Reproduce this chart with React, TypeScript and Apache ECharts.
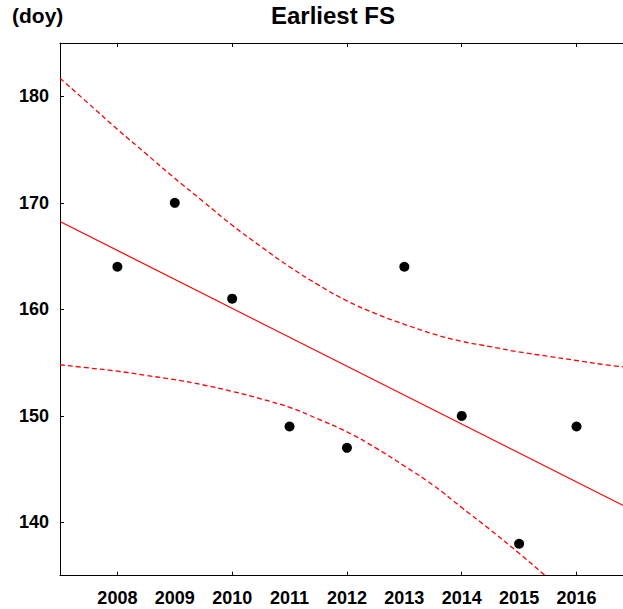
import React, { useEffect, useRef } from "react";
import * as echarts from "echarts";

const years = [2008, 2009, 2010, 2011, 2012, 2013, 2014, 2015, 2016];
const earliestFS = [164, 170, 161, 149, 147, 164, 150, 138, 149];
const xTickYears = [2008, 2010, 2012, 2014, 2016];
const yTicks = [140, 150, 160, 170, 180];

// fitted trend line endpoints
const trendX = [2007, 2017];
const trendY = [168.25, 141.08];

const bandX = [2007, 2007.5, 2008, 2008.5, 2009, 2009.5, 2010, 2010.5, 2011, 2011.5, 2012, 2012.5, 2013, 2013.5, 2014, 2014.5, 2015, 2015.5, 2016, 2016.5, 2017];
const bandUpper = [181.7, 179.3, 176.9, 174.6, 172.3, 170.1, 167.9, 165.9, 164.0, 162.3, 160.8, 159.6, 158.6, 157.7, 157.0, 156.5, 156.0, 155.6, 155.2, 154.8, 154.5];
const bandLower = [154.8, 154.5, 154.2, 153.8, 153.4, 152.9, 152.3, 151.6, 150.8, 149.7, 148.5, 147.0, 145.3, 143.5, 141.4, 139.3, 137.1, 134.8, 132.4, 130.0, 127.6];

const sans = "'Liberation Sans', Arial, Helvetica, sans-serif";

export default function App() {
  const ref = useRef<HTMLDivElement>(null);
  useEffect(() => {
    if (!ref.current) return;
    const chart = echarts.init(ref.current, undefined, { renderer: "svg" });
    const axisLineStyle = { color: "#000", width: 1 };
    const dash = { color: "#ff0000", width: 1.3, type: [5, 3] };
    chart.setOption({
      animation: false,
      backgroundColor: "#fff",
      grid: { left: 60, top: 43, right: 0, bottom: 33.3, containLabel: false },
      graphic: [
        {
          type: "text",
          x: 333,
          y: 3,
          style: { text: "Earliest FS", font: `bold 24px ${sans}`, fill: "#000", align: "center", verticalAlign: "top" },
        },
        {
          type: "text",
          x: 12,
          y: 5,
          style: { text: "(doy)", font: `bold 21px ${sans}`, fill: "#000", align: "left", verticalAlign: "top" },
        },
      ],
      xAxis: [
        {
          type: "value",
          position: "bottom",
          min: 2007,
          max: 2016.81,
          axisLine: { show: true, lineStyle: axisLineStyle },
          axisTick: { show: true, inside: true, length: 4, customValues: xTickYears, lineStyle: axisLineStyle },
          axisLabel: {
            show: true,
            customValues: years,
            formatter: (v: number) => String(v),
            fontFamily: sans,
            fontWeight: "bold",
            fontSize: 18,
            color: "#000",
            margin: 13,
          },
          splitLine: { show: false },
        },
        {
          type: "value",
          position: "top",
          min: 2007,
          max: 2016.81,
          axisLine: { show: true, lineStyle: axisLineStyle },
          axisTick: { show: true, inside: true, length: 4, customValues: xTickYears, lineStyle: axisLineStyle },
          axisLabel: { show: false },
          splitLine: { show: false },
        },
      ],
      yAxis: {
        type: "value",
        min: 135,
        max: 185,
        axisLine: { show: true, lineStyle: axisLineStyle },
        axisTick: { show: true, inside: true, length: 4, customValues: yTicks, lineStyle: axisLineStyle },
        axisLabel: {
          show: true,
          customValues: yTicks,
          fontFamily: sans,
          fontWeight: "bold",
          fontSize: 18,
          color: "#000",
          margin: 11,
        },
        splitLine: { show: false },
      },
      series: [
        {
          type: "line",
          data: bandX.map((x, i) => [x, bandUpper[i]]),
          smooth: true,
          showSymbol: false,
          symbol: "none",
          clip: true,
          lineStyle: dash,
        },
        {
          type: "line",
          data: bandX.map((x, i) => [x, bandLower[i]]),
          smooth: true,
          showSymbol: false,
          symbol: "none",
          clip: true,
          lineStyle: dash,
        },
        {
          type: "line",
          data: trendX.map((x, i) => [x, trendY[i]]),
          showSymbol: false,
          symbol: "none",
          clip: true,
          lineStyle: { color: "#ff0000", width: 1.2 },
        },
        {
          type: "scatter",
          data: years.map((y, i) => [y, earliestFS[i]]),
          symbol: "circle",
          symbolSize: 10,
          itemStyle: { color: "#000", opacity: 1 },
        },
      ],
    });
    return () => chart.dispose();
  }, []);
  return <div ref={ref} style={{ width: 623, height: 609, position: "absolute", left: 0, top: 0 }} />;
}
